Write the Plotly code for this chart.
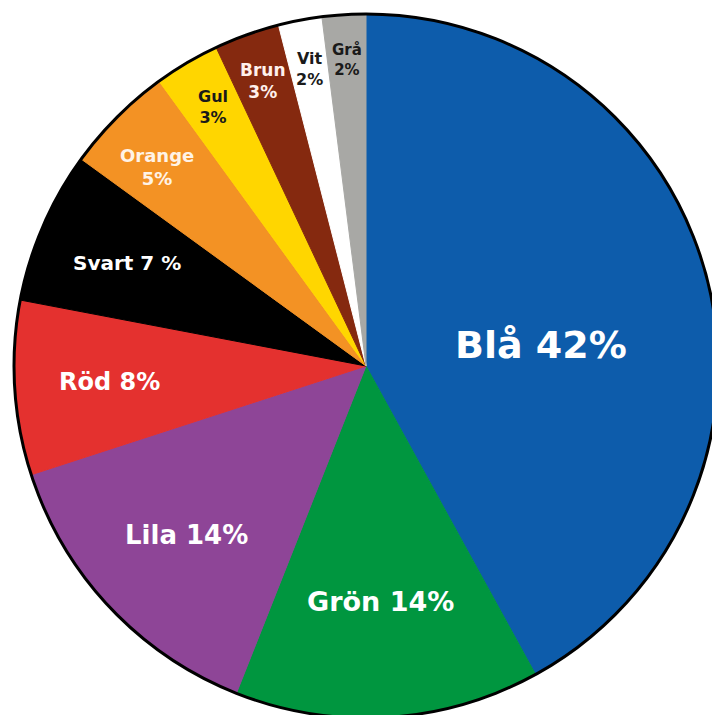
import math
import plotly.graph_objects as go

# ---- data ----
categories = ["Blå", "Grön", "Lila", "Röd", "Svart", "Orange", "Gul", "Brun", "Vit", "Grå"]
values = [42, 14, 14, 8, 7, 5, 3, 3, 2, 2]
label_texts = ["Blå 42%", "Grön 14%", "Lila 14%", "Röd 8%", "Svart 7 %",
               "Orange<br>5%", "Gul<br>3%", "Brun<br>3%", "Vit<br>2%", "Grå<br>2%"]

# ---- styles ----
colors = ["#0D5CAB", "#00963F", "#8E4597", "#E4312F", "#000000",
          "#F39224", "#FFD600", "#85290F", "#FFFFFF", "#A8A8A5"]
text_colors = ["white", "white", "white", "white", "white",
               "#FFF3E6", "#1a1a1a", "#FFF0EC", "#1a1a1a", "#1a1a1a"]
font_sizes = [38, 27, 26, 24, 20, 18, 16, 17, 16, 15]
label_radius = [0.50, 0.67, 0.70, 0.73, 0.74, 0.82, 0.855, 0.86, 0.86, 0.87]
label_angle_offset = [7.5, 0, 0, 0, 0, -1.5, 0, 0, 0, 0]

# figure is a bit larger than the window; the pie runs off the right/bottom edge
W, H = 730, 730
CX, CY, R = 366, 366, 352
dom_x = [(CX - R) / W, (CX + R) / W]
dom_y = [1 - (CY + R) / H, 1 - (CY - R) / H]

fig = go.Figure()
fig.add_trace(go.Pie(
    labels=categories, values=values, sort=False, direction="clockwise", rotation=0,
    marker=dict(colors=colors, line=dict(color=colors, width=1)),
    textinfo="none", hoverinfo="label+percent", showlegend=False,
    domain=dict(x=dom_x, y=dom_y),
))
# outer black outline
fig.add_trace(go.Pie(
    labels=["outline"], values=[1], sort=False,
    marker=dict(colors=["rgba(0,0,0,0)"], line=dict(color="#000000", width=3)),
    textinfo="none", hoverinfo="skip", showlegend=False,
    domain=dict(x=dom_x, y=dom_y),
))

total = sum(values)
cum = 0.0
cxp = (dom_x[0] + dom_x[1]) / 2
cyp = (dom_y[0] + dom_y[1]) / 2
for i, v in enumerate(values):
    mid = (cum + v / 2) / total * 360 + label_angle_offset[i]
    cum += v
    th = math.radians(mid)
    x = cxp + label_radius[i] * R * math.sin(th) / W
    y = cyp + label_radius[i] * R * math.cos(th) / H
    fig.add_annotation(
        x=x, y=y, xref="paper", yref="paper", text=label_texts[i], showarrow=False,
        xanchor="center", yanchor="middle",
        font=dict(family="DejaVu Sans", size=font_sizes[i], color=text_colors[i], weight="bold"),
    )

fig.update_layout(
    width=W, height=H, margin=dict(l=0, r=0, t=0, b=0),
    paper_bgcolor="white", plot_bgcolor="white",
)
fig.write_html(
    "out.html",
    config={"displayModeBar": False},
    post_script="document.documentElement.style.overflow='hidden';document.body.style.margin='0';",
)
